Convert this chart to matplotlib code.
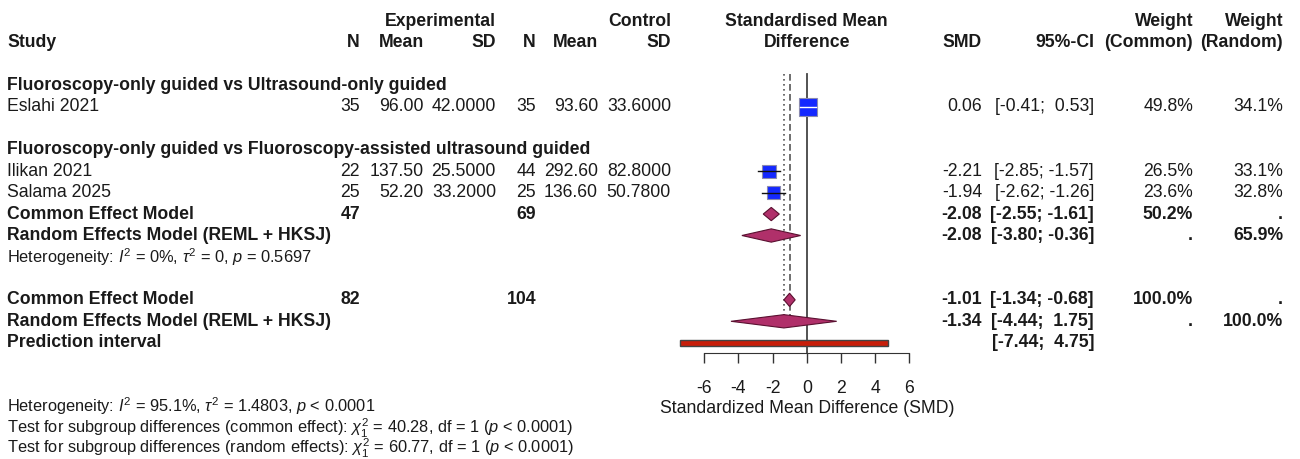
import numpy as np
import matplotlib
matplotlib.use("Agg")
import matplotlib.pyplot as plt
from matplotlib.patches import Polygon, Rectangle

plt.rcParams['font.family'] = ['Liberation Sans', 'DejaVu Sans']
plt.rcParams['mathtext.fontset'] = 'custom'
plt.rcParams['mathtext.rm'] = 'Liberation Sans'
plt.rcParams['mathtext.it'] = 'Liberation Sans:italic'
plt.rcParams['mathtext.bf'] = 'Liberation Sans:bold'
plt.rcParams['axes.unicode_minus'] = False

# ---- data ----
subgroup_titles = ['Fluoroscopy-only guided vs Ultrasound-only guided',
                   'Fluoroscopy-only guided vs Fluoroscopy-assisted ultrasound guided']
subgroup_rows = [3, 6]

studies = ['Eslahi 2021', 'Ilikan 2021', 'Salama 2025']
study_rows = [4, 7, 8]
exp_n = [35, 22, 25]
exp_mean = [96.00, 137.50, 52.20]
exp_sd = [42.0, 25.5, 33.2]
ctl_n = [35, 44, 25]
ctl_mean = [93.60, 292.60, 136.60]
ctl_sd = [33.6, 82.8, 50.78]
smd = [0.06, -2.21, -1.94]
ci_lo = [-0.41, -2.85, -2.62]
ci_hi = [0.53, -1.57, -1.26]
w_common = [49.8, 26.5, 23.6]
w_random = [34.1, 33.1, 32.8]

pooled_names = ['Common Effect Model', 'Random Effects Model (REML + HKSJ)',
                'Common Effect Model', 'Random Effects Model (REML + HKSJ)']
pooled_rows = [9, 10, 13, 14]
pooled_est = [-2.08, -2.08, -1.01, -1.34]
pooled_lo = [-2.55, -3.80, -1.34, -4.44]
pooled_hi = [-1.61, -0.36, -0.68, 1.75]
pooled_exp_n = ['47', '', '82', '']
pooled_ctl_n = ['69', '', '104', '']
pooled_wc = ['50.2%', '.', '100.0%', '.']
pooled_wr = ['.', '65.9%', '.', '100.0%']

pred_lo, pred_hi = -7.44, 4.75
pred_row = 15
overall_common = -1.01
overall_random = -1.34

het_sub = r'Heterogeneity: $I^2$ = 0%, $\tau^2$ = 0, $p$ = 0.5697'
bottom_lines = [r'Heterogeneity: $I^2$ = 95.1%, $\tau^2$ = 1.4803, $p$ < 0.0001',
                r'Test for subgroup differences (common effect): $\chi^2_1$ = 40.28, df = 1 ($p$ < 0.0001)',
                r'Test for subgroup differences (random effects): $\chi^2_1$ = 60.77, df = 1 ($p$ < 0.0001)']
xticks = [-6, -4, -2, 0, 2, 4, 6]

# ---- layout ----
W, H = 1300, 459
Y0, DY = 21, 21.45
FS = 12.7
FS2 = 11.8
TXT = '#1a1a1a'
ZERO_PX, PX_PER = 806.8, 17.08

def ypix(r):
    return Y0 + DY * r

fig = plt.figure(figsize=(13, 4.59), dpi=100)
at = fig.add_axes([0, 0, 1, 1])
at.set_xlim(0, W)
at.set_ylim(H, 0)
at.axis('off')

def put(x, row, s, ha='right', bold=False, size=FS):
    at.text(x, ypix(row), s, ha=ha, va='center', fontsize=size,
            fontweight='bold' if bold else 'normal', color=TXT)

# column right edges
c_en, c_em, c_esd, c_cn, c_cm, c_csd = 360, 424, 496, 536, 598, 671
c_smd, c_ci, c_wc, c_wr = 982, 1094, 1193, 1283

put(c_esd, 0, 'Experimental', bold=True)
put(c_csd, 0, 'Control', bold=True)
put(ZERO_PX, 0, 'Standardised Mean', ha='center', bold=True)
put(c_wc, 0, 'Weight', bold=True)
put(c_wr, 0, 'Weight', bold=True)
put(7, 1, 'Study', ha='left', bold=True)
for x, s in [(c_en, 'N'), (c_em, 'Mean'), (c_esd, 'SD'), (c_cn, 'N'), (c_cm, 'Mean'),
             (c_csd, 'SD'), (c_smd, 'SMD'), (c_ci, '95%-CI'), (c_wc, '(Common)'), (c_wr, '(Random)')]:
    put(x, 1, s, bold=True)
put(ZERO_PX, 1, 'Difference', ha='center', bold=True)

for t, r in zip(subgroup_titles, subgroup_rows):
    put(7, r, t, ha='left', bold=True)

for i, r in enumerate(study_rows):
    put(7, r, studies[i], ha='left')
    put(c_en, r, str(exp_n[i]))
    put(c_em, r, f'{exp_mean[i]:.2f}')
    put(c_esd, r, f'{exp_sd[i]:.4f}')
    put(c_cn, r, str(ctl_n[i]))
    put(c_cm, r, f'{ctl_mean[i]:.2f}')
    put(c_csd, r, f'{ctl_sd[i]:.4f}')
    put(c_smd, r, f'{smd[i]:.2f}')
    put(c_ci, r, f'[{ci_lo[i]:5.2f}; {ci_hi[i]:5.2f}]')
    put(c_wc, r, f'{w_common[i]:.1f}%')
    put(c_wr, r, f'{w_random[i]:.1f}%')

for i, r in enumerate(pooled_rows):
    put(7, r, pooled_names[i], ha='left', bold=True)
    put(c_en, r, pooled_exp_n[i], bold=True)
    put(c_cn, r, pooled_ctl_n[i], bold=True)
    put(c_smd, r, f'{pooled_est[i]:.2f}', bold=True)
    put(c_ci, r, f'[{pooled_lo[i]:5.2f}; {pooled_hi[i]:5.2f}]', bold=True)
    put(c_wc, r, pooled_wc[i], bold=True)
    put(c_wr, r, pooled_wr[i], bold=True)

put(7, pred_row, 'Prediction interval', ha='left', bold=True)
put(c_ci, pred_row, f'[{pred_lo:5.2f}; {pred_hi:5.2f}]', bold=True)
put(7, 11, het_sub, ha='left', size=FS2)
for k, s in enumerate(bottom_lines):
    at.text(7, 412 + 21 * k, s, ha='left', va='baseline', fontsize=FS2, color=TXT)

# ---- forest panel ----
xl, xr = -8, 8
left_px = ZERO_PX + xl * PX_PER
ax = fig.add_axes([left_px / W, 0, (xr - xl) * PX_PER / W, 1])
ax.set_xlim(xl, xr)
ax.set_ylim((H - Y0) / DY, -Y0 / DY)
ax.patch.set_visible(False)
for s in ['top', 'left', 'right']:
    ax.spines[s].set_visible(False)
ax.spines['bottom'].set_position(('data', 15.48))
ax.spines['bottom'].set_bounds(-6, 6)
ax.spines['bottom'].set_color('#333333')
ax.set_yticks([])
ax.set_xticks(xticks)
ax.set_xticklabels([str(t) for t in xticks])
ax.tick_params(axis='x', length=7.2, width=1, color='#333333', labelsize=FS,
               labelcolor=TXT, pad=12.5)
ax.set_xlabel('Standardized Mean Difference (SMD)', fontsize=FS, color=TXT, labelpad=2)

top_r = 2.47
ax.plot([0, 0], [top_r, 15.48], color='#444444', lw=1.3, zorder=1)
ax.plot([overall_random, overall_random], [top_r, 14.0], color='#555555', lw=1.2,
        linestyle=(0, (1, 2)), zorder=1)
ax.plot([overall_common, overall_common], [top_r, 14.0], color='#555555', lw=1.2,
        linestyle=(0, (4, 2)), zorder=1)

for i, r in enumerate(study_rows):
    side = 2.55 * np.sqrt(w_common[i])
    hw, hh = side / 2 / PX_PER, side / 2 / DY
    ax.add_patch(Rectangle((smd[i] - hw, r - hh), 2 * hw, 2 * hh, fc='#1428ff',
                           ec='#8a8ab0', lw=0.8, zorder=3))
    inside = ci_lo[i] >= smd[i] - hw and ci_hi[i] <= smd[i] + hw
    ax.plot([ci_lo[i], ci_hi[i]], [r, r], color='white' if inside else '#111111',
            lw=1.0, zorder=4)

for i, r in enumerate(pooled_rows):
    h = 0.31
    ax.add_patch(Polygon([(pooled_lo[i], r), (pooled_est[i], r - h), (pooled_hi[i], r),
                          (pooled_est[i], r + h)], closed=True, fc='#b0306a',
                         ec='#5a1030', lw=0.8, zorder=3))

ph = 0.14
ax.add_patch(Rectangle((pred_lo, pred_row - ph), pred_hi - pred_lo, 2 * ph,
                       fc='#c81e0a', ec='#444444', lw=1.0, zorder=3, clip_on=False))

fig.savefig('out.png', dpi=100)
